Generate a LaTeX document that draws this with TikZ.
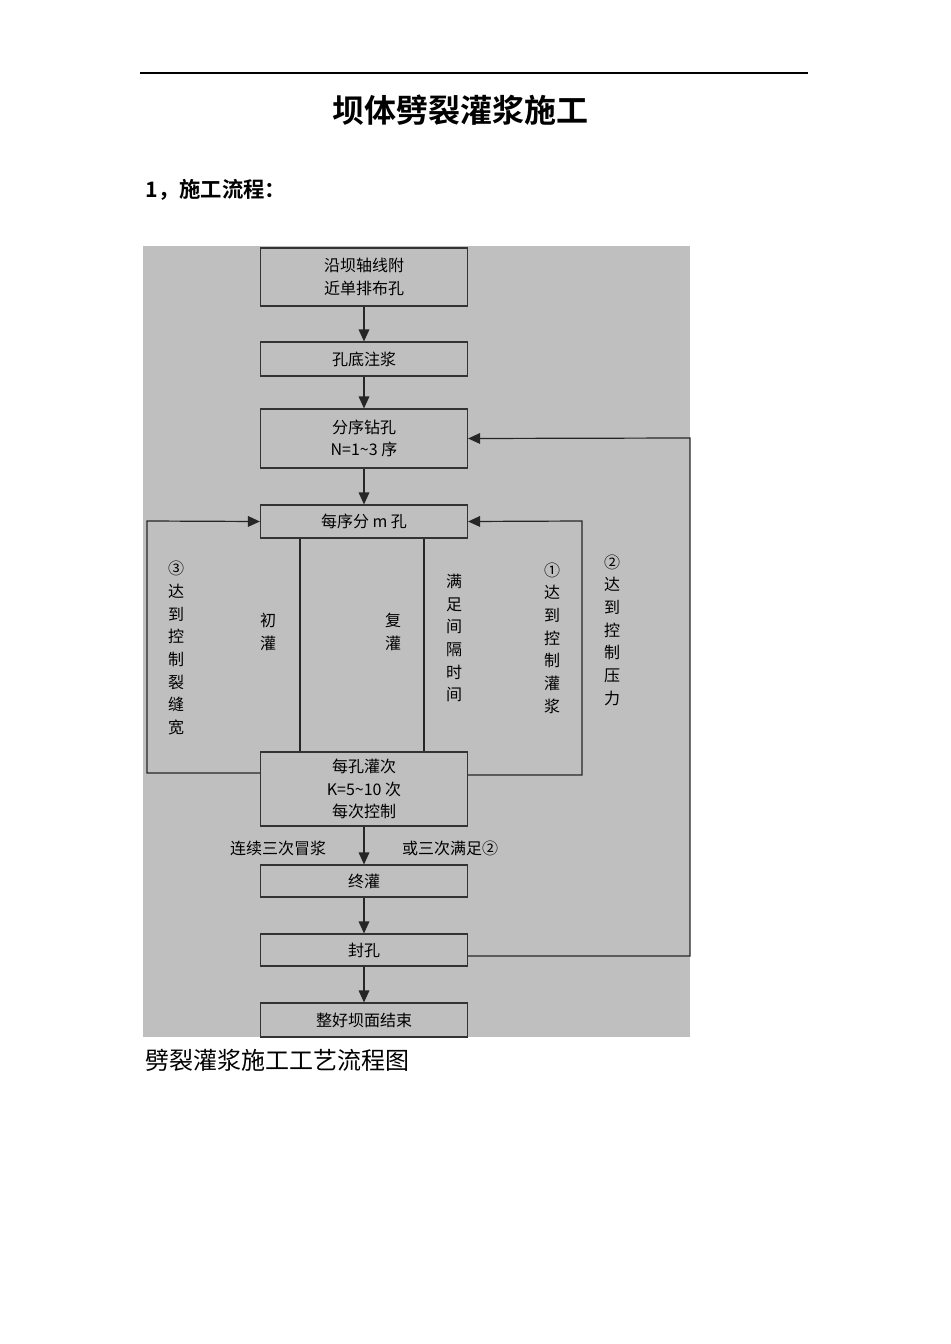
\documentclass[tikz,border=0pt]{standalone}
\usepackage{fontspec}
\setmainfont{Noto Sans CJK SC}
\newfontfamily\cjkb{Noto Sans CJK SC Bold}
\usetikzlibrary{arrows.meta}
\tikzset{
  bx/.style={draw=black!80,line width=0.9pt,minimum width=207*0.75pt,align=center,font=\fontsize{12}{17}\selectfont,inner sep=1pt},
  ln/.style={draw=black!85,line width=0.9pt},
  ar/.style={ln,-{Triangle[length=9pt,width=8pt]}},
  vt/.style={align=center,font=\fontsize{12}{17}\selectfont,inner sep=0pt}
}
\begin{document}
\begin{tikzpicture}[x=0.75pt,y=-0.75pt]
\useasboundingbox (0,0) rectangle (950,1344);
\draw[line width=0.8pt] (140,73) -- (808,73);
\node[font=\cjkb\fontsize{24}{28}\selectfont] (title) at (460,110) {坝体劈裂灌浆施工};
\node[font=\cjkb\fontsize{16}{20}\selectfont,anchor=west] (h1) at (141,190) {1，施工流程：};
\fill[black!25] (143,246) rectangle (690,1037);
\node[bx,minimum height=58*0.75pt] (b1) at (364,277) {沿坝轴线附\\近单排布孔};
\node[bx,minimum height=34*0.75pt] (b2) at (364,359) {孔底注浆};
\node[bx,minimum height=59*0.75pt] (b3) at (364,438.5) {分序钻孔\\N=1\textasciitilde 3 序};
\node[bx,minimum height=33*0.75pt] (b4) at (364,521.5) {每序分 m 孔};
\node[bx,minimum height=74*0.75pt] (b5) at (364,789) {每孔灌次\\K=5\textasciitilde 10 次\\每次控制};
\node[bx,minimum height=32*0.75pt] (b6) at (364,881) {终灌};
\node[bx,minimum height=32*0.75pt] (b7) at (364,950) {封孔};
\node[bx,minimum height=34*0.75pt] (b8) at (364,1020) {整好坝面结束};
\draw[ar] (b1) -- (b2);
\draw[ar] (b2) -- (b3);
\draw[ar] (b3) -- (b4);
\draw[ar] (b5) -- (b6);
\draw[ar] (b6) -- (b7);
\draw[ar] (b7) -- (b8);
\draw[ln] (b4.south -| 300,0) -- (b5.north -| 300,0);
\draw[ln] (b4.south -| 424,0) -- (b5.north -| 424,0);
\draw[ar] (b5.west |- 0,773) -- (147,773) -- (147,521) -- (b4.west);
\draw[ar] (b5.east |- 0,775) -- (582,775) -- (582,521) -- (b4.east);
\draw[ar] (b7.east |- 0,956) -- (690,956) -- (690,438) -- (b3.east);
\node[vt] (t3) at (176,648) {③\\达\\到\\控\\制\\裂\\缝\\宽};
\node[vt] (t1) at (268,632) {初\\灌};
\node[vt] (t2) at (393,632) {复\\灌};
\node[vt] (t4) at (454,638) {满\\足\\间\\隔\\时\\间};
\node[vt] (t5) at (552,638) {①\\达\\到\\控\\制\\灌\\浆};
\node[vt] (t6) at (612,630) {②\\达\\到\\控\\制\\压\\力};
\node[vt] (l1) at (278,848) {连续三次冒浆};
\node[vt] (l2) at (450,848) {或三次满足②};
\node[font=\fontsize{18}{22}\selectfont,anchor=west,inner sep=0pt] (cap) at (145,1060) {劈裂灌浆施工工艺流程图};
\end{tikzpicture}
\end{document}
